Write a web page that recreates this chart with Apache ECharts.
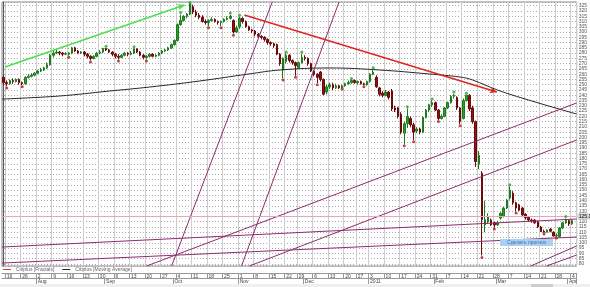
<!DOCTYPE html>
<html><head><meta charset="utf-8">
<script src="https://cdn.jsdelivr.net/npm/echarts@6/dist/echarts.min.js"></script>
<style>html,body{margin:0;padding:0;background:#fff}#c{width:590px;height:287px}</style>
</head><body><div id="c"></div>
<script>
// ---- categories (trading days) ----
const firstDay = '2010-07-16', lastDay = '2011-04-05';
const holidays = ['2010-11-25', '2010-12-24', '2010-12-31'];
const monthLabels = ['', 'Feb', 'Mar', 'Apr', 'May', 'Jun', 'Jul', 'Aug', 'Sep', 'Oct', 'Nov', 'Dec']; // January shows the year
function buildDays() {
  const out = [];
  let t = Date.parse(firstDay + 'T00:00:00Z');
  const end = Date.parse(lastDay + 'T00:00:00Z');
  while (t <= end) {
    const d = new Date(t), wd = d.getUTCDay(), s = d.toISOString().slice(0, 10);
    if (wd > 0 && wd < 6 && holidays.indexOf(s) < 0) out.push(s);
    t += 86400000;
  }
  return out;
}
const days = buildDays();

// ---- candles [open, close, low, high] ----
const candles = [
[257,252,250,259],[252,251,248.5,254],[251,254,250,255],[254,253,251,256],[253,255,252,256],
[255,252,250,256],[252,251,249.5,253],[251,257,250,258],[257,258,256,260],[258,259,257,261],
[259,261,258,262],[261,263,260,264],[263,264,262,266],[264,266,263,267],[266,269,265,271],
[269,278,268,279],[278,280,276,282],[280,281,279,283],[281,280,278,282],[280,279,277,281],
[279,279.5,278,281],[279,280,277.5,281],[280,285,279,286],[285,282,281,286],[282,280,279,283],
[280,281,279,282],[281,279,277,282],[279,277,275,280],[277,275,273,278],[275,277,274,278],
[277,280,276,281],[280,281,279,283],[281,284.5,280,285],[284.5,283,282,285],[283,281,280,284],
[281,279,277,282],[279,277,275,280],[277,276,274,279],[276,278,275,279],[278,280,277,281],
[280,279,277,281],[279,280,278,282],[280,284,279,284.5],[284,281,280,284.5],[281,278,277,282],
[278,276,274,279],[276,277,274,278],[277,279,276,280],[279,277,276,280],[277,278,276,279],
[278,280,277,281],[280,282,279,283],[282,283,281,284],[283,285,282,286],[285,288,284,289],
[288,292,287,293],[292,307,291,308],[307,311,306,316.5],[311,315,310,316],[315,317,313,318],
[317,327,316,327],[324,319,317,326],[319,316,314,321],[316,314,312,318],[314,310,309,316],
[310,309,307,312],[309,311,305.5,312],[311,312,310,314],[312,310,309,313],[310,309,307,311],
[309,310,305.5,311],[310,312,309,313],[312,313,311,315],[313,315,312,316.5],[311,300,298.5,312],
[300,304,299,306],[305,313,303,314.5],[313,310,308,314],[310,305,304,311],[305,302,301,306],
[302,301,299,303],[301,298,296,302],[298,296,294,299],[296,295,293,297],[295,293,291,296],
[293,290,288,294],[290,289,287,291],[289,287,285,290],[288,279,278,289],[279,270,268,280],
[264,275,256,276],[272,278,270,280],[278,273,271,279],[273,271,269,274],[271,268,258.5,272],
[266,271,265,272],[271,276,270,279.5],[276,275,273,278],[275,270,268,276],[270,263,262,271],
[263,260,258,264],[260,257,251.5,261],[262,255,253,263],[255,241,240,256],[243,248,241,250],
[248,250,246,252],[250,247,245,252],[247,249,246,251],[249,247,246,250],[247,249,247.5,250],
[249,251,248,252],[251,252,250,254],[252,254,251,255],[254,252,251,255],[252,253,250,254],
[253,251,250,254],[251,250,249.5,252],[250,253,249,254],[253,260,252,261],[260,262,259,264.5],
[257,248,247,259],[247,241,239,248],[242,240,238,244],[240,243,239,245],[243,238,236,244],
[244,227,225,246],[228,226,224,230],[228,220,218,229],[222,205,203,224],[204,213,193.5,215],
[213,220,209,227.5],[218,212,210,220],[212,205,197.5,214],[206,208,204,210],[208,205,203,209],
[205,219,204,220],[219,226,218,227],[226,231,224,232],[231,233,229,235],[233,226,225,234],
[226,218,216.5,227],[218,220,217,222],[220,228,219,229],[228,233,227,234],[233,239,232,240],
[239,240,237,241.5],[238,228,226,239],[228,215,212.5,229],[218,235,217,237],[235,240,234,240.5],
[240,227,225,241],[228,215,213,230],[215,177,172,216],[175,183,170,187],[166,122,88,168],
[117,122,110,140],[120,124.5,118,128],[121.6,117,116,123],[119,117,114.5,120],[117,119,116,121],
[123.5,128,122,129],[125,133,124,134],[133,140.6,132,141.5],[142.5,150,141,153.5],[147,138,136,149],
[138,133,129.8,139],[136,131,130,137],[133,126.5,125,134],[127,124,122,128],[124,121.6,120,125],
[121.6,121,119,123],[121.6,119,118,122.5],[120,115,114,121],[115,110.5,110.5,116],[111,110,109.8,112.5],
[110,112,109.8,113],[113,111,110,114],[110,106.5,106,111],[106.5,107,105.8,109],[106,114,105,115],
[114,119,113,120],[119,122,118,123],[121,118,116,122],[118,121,117,122.5]
];

// ---- fractals [index, value] ----
const fractalsUp = [[33,286.5],[42,286],[57,318.5],[60,328],[73,318],[76,316],[91,281],[96,281],
  [112,256],[119,266],[130,229],[138,236.5],[145,243],[149,242],[163,155],[181,125]];
const fractalsDown = [[1,247],[6,248],[21,276],[28,271.6],[37,272.5],[46,272.5],[66,304],[70,304],
  [74,297],[90,254.5],[94,257],[101,250],[109,246],[116,248],[129,192],[132,196],[140,215],
  [147,211],[154,86],[158,113],[165,128.3],[174,108.3],[178,104.5]];

// ---- moving average samples [index, value] ----
const movingAvg = [[-0.5,236.4],[18,239.3],[34,244],[47,247.8],[63,253.5],[79,260.2],[89,264],
  [105,265.9],[121,264],[137,260.2],[147,257.3],[151,254.5],[159,245],[169,235.5],[184.5,222.2]];

// ---- drawn lines [[x1,v1],[x2,v2]] ----
const greenArrow = [[0.46,266.8],[58.27,325.7]];
const redArrow = [[77.53,316.2],[158.8,243.1]];
const purpleLines = [
  [[54.1,78],[86.5,328.5]],
  [[76.6,78],[108.0,328.5]],
  [[46.06,78],[184.5,232.7]],
  [[79.14,78],[184.5,197.6]],
  [[-0.5,96.0],[184.5,122.6]],
  [[-0.5,80.8],[184.5,105.5]],
  [[169.7,78],[184.5,97.0]],
  [[174.8,78],[184.5,88.4]]
];
const priceLevel = 125.104;

const weekStart = days.map((d, i) => i > 0 && new Date(d).getUTCDay() < new Date(days[i - 1]).getUTCDay());
const monthStart = days.map((d, i) => i > 0 && d.slice(5, 7) !== days[i - 1].slice(5, 7));

const FONT = 'Liberation Sans';
const mlData = [];
function seg(p, color, width, arrow) {
  const ls = {color: color, width: width, type: 'solid'};
  return [{coord: p[0], symbol: 'none', lineStyle: ls},
          {coord: p[1], symbol: arrow ? 'arrow' : 'none', symbolSize: arrow ? [5, 7] : 0, lineStyle: ls}];
}
purpleLines.forEach(p => mlData.push(seg(p, '#8e2c6c', 1, false)));
mlData.push(seg(greenArrow, '#4ede4e', 1.5, true));
mlData.push(seg(redArrow, '#e02424', 1.5, true));
mlData.push({yAxis: priceLevel, symbol: 'none', lineStyle: {color: '#e7a6bf', width: 1.2, type: 'solid'},
  label: {show: true, position: 'end', formatter: '125.104', fontSize: 5, color: '#000',
          backgroundColor: '#d6d6d6', padding: [1, 1, 0, 1], distance: 1, fontFamily: FONT}});

const chart = echarts.init(document.getElementById('c'), null, {renderer: 'canvas'});
chart.setOption({
  animation: false,
  backgroundColor: '#fff',
  textStyle: {fontFamily: FONT},
  grid: {left: 2, right: 12, top: 2, bottom: 21, show: true, borderColor: '#888', borderWidth: 1, backgroundColor: '#fff'},
  legend: {left: 2, top: 266, itemWidth: 8, itemHeight: 1, itemGap: 8, icon: 'rect', padding: 1,
    textStyle: {fontSize: 5, color: '#666', fontFamily: FONT},
    data: ['Citiplus [Fractals]', 'Citiplus [Moving Average]']},
  xAxis: [
    {type: 'category', data: days, position: 'bottom', offset: 7, boundaryGap: true,
     axisLine: {show: true, lineStyle: {color: '#999'}},
     axisTick: {show: true, interval: (i) => weekStart[i], length: 5, lineStyle: {color: '#999'}},
     axisLabel: {interval: (i) => weekStart[i], formatter: (v) => String(+v.slice(8)), fontSize: 5, color: '#444',
                 align: 'left', margin: 1, fontFamily: FONT},
     splitLine: {show: true, interval: (i) => weekStart[i], lineStyle: {color: '#cccccc', width: 1}}},
    {type: 'category', data: days, position: 'bottom', offset: 12, boundaryGap: true,
     axisLine: {show: true, lineStyle: {color: '#999'}},
     axisTick: {show: true, interval: (i) => monthStart[i], length: 6, lineStyle: {color: '#999'}},
     axisLabel: {interval: (i) => monthStart[i], fontSize: 5, color: '#444', align: 'left', margin: 1, fontFamily: FONT,
                 formatter: (v) => { const m = +v.slice(5, 7); return m === 1 ? v.slice(0, 4) : monthLabels[m - 1]; }},
     splitLine: {show: false}},
    {type: 'value', min: -0.5, max: 184.5, show: false}
  ],
  yAxis: {type: 'value', position: 'right', min: 78, max: 328.5, splitNumber: 50, minInterval: 5, maxInterval: 5,
    axisLine: {show: true, lineStyle: {color: '#555'}},
    axisTick: {show: true, length: 2, lineStyle: {color: '#999'}},
    axisLabel: {fontSize: 5, color: '#555', margin: 2, showMinLabel: false, showMaxLabel: false, fontFamily: FONT},
    splitLine: {show: true, lineStyle: {color: '#a8a8a8', type: [1, 2], width: 1}}},
  series: [
    {type: 'candlestick', name: 'Citiplus', xAxisIndex: 0, data: candles, barWidth: 2,
     itemStyle: {color: '#25a025', color0: '#8e1212', borderColor: '#1d7a1d', borderColor0: '#6a0a0a', borderWidth: 1}},
    {type: 'scatter', name: 'Citiplus [Fractals]', xAxisIndex: 2, data: fractalsDown, symbol: 'circle', symbolSize: 3,
     itemStyle: {color: '#b01818'}, z: 5},
    {type: 'scatter', name: 'Citiplus [Fractals]', xAxisIndex: 2, data: fractalsUp, symbol: 'circle', symbolSize: 3,
     itemStyle: {color: '#2aa02a'}, z: 5},
    {type: 'line', name: 'Citiplus [Moving Average]', xAxisIndex: 2, data: movingAvg, smooth: 0.4, symbol: 'none',
     lineStyle: {color: '#262626', width: 1}, itemStyle: {color: '#262626'}, z: 3,
     markLine: {silent: true, animation: false, symbol: 'none', label: {show: false}, data: mlData}}
  ],
  graphic: [
    {type: 'rect', z: 100, shape: {x: 500, y: 239, width: 53, height: 7}, style: {fill: '#a9d0f3'}},
    {type: 'text', z: 101, x: 526.5, y: 242.7, style: {text: 'Сделать прогноз', fontSize: 5, fill: '#3b6ea8',
      align: 'center', verticalAlign: 'middle', fontFamily: FONT}},
    {type: 'rect', z: 100, shape: {x: 0, y: 284, width: 590, height: 3}, style: {fill: '#efefef'}},
    {type: 'rect', z: 101, shape: {x: 531, y: 284, width: 22, height: 3}, style: {fill: '#cdcdcd'}}
  ]
});
</script></body></html>
